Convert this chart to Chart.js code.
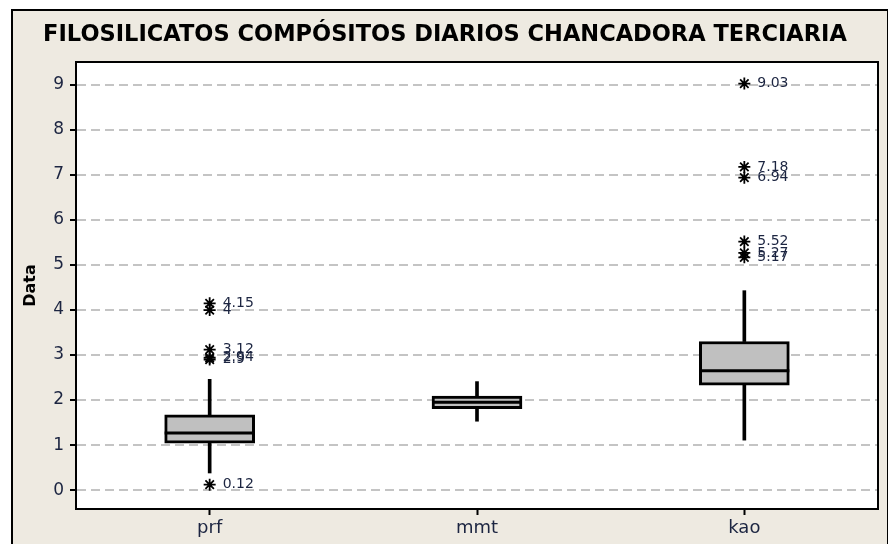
<!DOCTYPE html>
<html>
<head>
<meta charset="utf-8">
<script src="https://cdn.jsdelivr.net/npm/chart.js@4/dist/chart.umd.min.js"></script>
<style>
  html, body { margin: 0; padding: 0; background: #ffffff; }
  #wrap { width: 888px; height: 544px; }
</style>
</head>
<body>
<div id="wrap"><canvas id="c" width="888" height="544"></canvas></div>
<script>
// Box-plot summary per mineral group
const categories = ['prf', 'mmt', 'kao'];
const whiskerLow = [0.38, 1.53, 1.11];
const q1 = [1.04, 1.81, 2.33];
const median = [1.27, 1.95, 2.65];
const q3 = [1.67, 2.09, 3.30];
const whiskerHigh = [2.46, 2.41, 4.43];

// Outliers (value labels are printed beside each asterisk)
const prfOutliers = ['0.12', '2.9', '2.94', '3.12', '4', '4.15'];
const mmtOutliers = [];
const kaoOutliers = ['5.17', '5.27', '5.52', '6.94', '7.18', '9.03'];

const yTicks = [0, 1, 2, 3, 4, 5, 6, 7, 8, 9];

const titleText = 'FILOSILICATOS COMPÓSITOS DIARIOS CHANCADORA TERCIARIA';
const yTitle = 'Data';

const INK = '#1c2541';
const BOX_FILL = '#c0c0c0';

const outlierSets = [prfOutliers, mmtOutliers, kaoOutliers];
const outlierPoints = [];
outlierSets.forEach((list, i) => {
  list.forEach(v => outlierPoints.push({ x: categories[i], y: parseFloat(v), label: v }));
});

const boxData = categories.map((_, i) => [q1[i], q3[i]]);
const upperWhisker = categories.map((_, i) => [q3[i], whiskerHigh[i]]);
const lowerWhisker = categories.map((_, i) => [whiskerLow[i], q1[i]]);

// Panel background, plot area fill, frame, medians and outlier labels
const boxPlotDecor = {
  id: 'boxPlotDecor',
  beforeDraw(chart) {
    const { ctx, chartArea: a } = chart;
    ctx.save();
    ctx.fillStyle = '#ffffff';
    ctx.fillRect(0, 0, chart.width, chart.height);
    ctx.fillStyle = '#eeeae1';
    ctx.fillRect(12, 10, 876, 540);
    ctx.strokeStyle = '#000000';
    ctx.lineWidth = 2;
    ctx.strokeRect(12, 10, 876, 540);
    ctx.fillStyle = '#ffffff';
    ctx.fillRect(a.left, a.top, a.right - a.left, a.bottom - a.top);
    ctx.restore();
  },
  afterDatasetsDraw(chart) {
    const { ctx } = chart;
    const ys = chart.scales.y;
    const boxMeta = chart.getDatasetMeta(0);
    ctx.save();
    // median lines across each box
    ctx.strokeStyle = '#000000';
    ctx.lineWidth = 3;
    boxMeta.data.forEach((bar, i) => {
      const half = bar.width / 2;
      const y = ys.getPixelForValue(median[i]);
      ctx.beginPath();
      ctx.moveTo(bar.x - half, y);
      ctx.lineTo(bar.x + half, y);
      ctx.stroke();
    });
    // outlier value labels
    const ptMeta = chart.getDatasetMeta(3);
    ctx.fillStyle = INK;
    ctx.font = '14px "DejaVu Sans"';
    ctx.textBaseline = 'middle';
    ctx.textAlign = 'left';
    ptMeta.data.forEach((pt, i) => {
      ctx.fillText(outlierPoints[i].label, pt.x + 13, pt.y);
    });
    // plot frame
    const a = chart.chartArea;
    ctx.lineWidth = 2;
    ctx.strokeRect(a.left, a.top, a.right - a.left, a.bottom - a.top);
    ctx.restore();
  }
};

new Chart(document.getElementById('c'), {
  type: 'bar',
  data: {
    labels: categories,
    datasets: [
      {
        label: 'box',
        data: boxData,
        backgroundColor: BOX_FILL,
        borderColor: '#000000',
        borderWidth: 3,
        borderSkipped: false,
        barThickness: 90,
        grouped: false,
        order: 0
      },
      {
        label: 'upper whisker',
        data: upperWhisker,
        backgroundColor: '#000000',
        borderWidth: 0,
        barThickness: 3,
        grouped: false,
        order: 1
      },
      {
        label: 'lower whisker',
        data: lowerWhisker,
        backgroundColor: '#000000',
        borderWidth: 0,
        barThickness: 3,
        grouped: false,
        order: 1
      },
      {
        type: 'line',
        label: 'outliers',
        data: outlierPoints,
        showLine: false,
        pointStyle: 'star',
        pointRadius: 6,
        pointBorderWidth: 1.8,
        pointBorderColor: '#000000',
        pointBackgroundColor: '#000000',
        order: -1
      }
    ]
  },
  options: {
    responsive: false,
    animation: false,
    layout: { padding: { left: 12, right: 10, top: 0, bottom: 0 } },
    plugins: {
      legend: { display: false },
      tooltip: { enabled: false },
      title: {
        display: true,
        text: titleText,
        color: '#000000',
        font: { family: '"DejaVu Sans"', size: 22.5, weight: 'bold', lineHeight: 1.2 },
        padding: { top: 22, bottom: 13 }
      }
    },
    scales: {
      x: {
        type: 'category',
        offset: true,
        grid: {
          offset: false,
          drawOnChartArea: false,
          color: '#000000',
          tickColor: '#000000',
          tickLength: 6,
          tickWidth: 2
        },
        border: { display: true, color: '#000000', width: 2 },
        ticks: {
          color: INK,
          padding: 3,
          font: { family: '"DejaVu Sans"', size: 18 }
        },
        afterFit(scale) { scale.height = 35; }
      },
      y: {
        type: 'linear',
        min: -0.42,
        max: 9.51,
        afterBuildTicks(scale) { scale.ticks = yTicks.map(v => ({ value: v })); },
        grid: {
          color: '#c4c4c4',
          lineWidth: 2,
          tickColor: '#000000',
          tickLength: 6,
          tickWidth: 2,
          tickBorderDash: []
        },
        border: { display: true, color: '#000000', width: 2, dash: [9, 5] },
        ticks: {
          color: INK,
          padding: 6,
          font: { family: '"DejaVu Sans"', size: 17 }
        },
        title: {
          display: true,
          text: yTitle,
          color: '#000000',
          font: { family: '"DejaVu Sans"', size: 16, weight: 'bold', lineHeight: 1.2 },
          padding: { top: 9, bottom: 0 }
        },
        afterFit(scale) { scale.width = 64; }
      }
    }
  },
  plugins: [boxPlotDecor]
});
</script>
</body>
</html>
